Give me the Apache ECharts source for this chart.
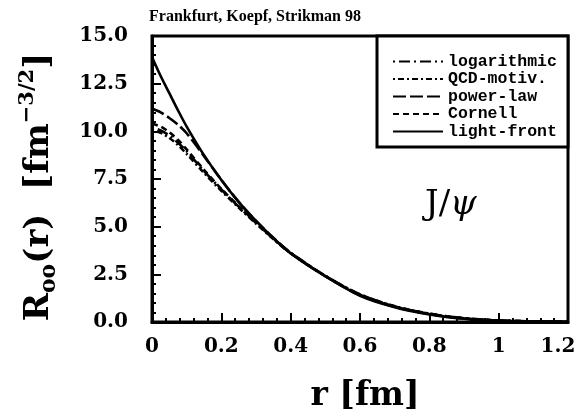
<!DOCTYPE html>
<html>
<head>
<meta charset="utf-8">
<script src="https://cdn.jsdelivr.net/npm/echarts@6/dist/echarts.min.js"></script>
<style>html,body{margin:0;padding:0;background:#fff}#c{width:582px;height:413px}</style>
</head>
<body>
<div id="c"></div>
<script>
var rValues = [0, 0.025, 0.05, 0.075, 0.1, 0.15, 0.2, 0.25, 0.3, 0.35, 0.4, 0.5, 0.6, 0.7, 0.8, 0.9, 1.0, 1.1, 1.2];
var logarithmic = [10.2, 10.05, 9.78, 9.4, 8.95, 7.92, 6.95, 6.05, 5.2, 4.38, 3.63, 2.42, 1.45, 0.82, 0.43, 0.2, 0.08, 0.03, 0.01];
var qcdMotiv    = [10.05, 9.92, 9.65, 9.28, 8.82, 7.82, 6.88, 6.0, 5.16, 4.35, 3.61, 2.42, 1.45, 0.83, 0.44, 0.2, 0.08, 0.03, 0.01];
var powerLaw    = [11.2, 11.0, 10.7, 10.35, 9.9, 8.7, 7.45, 6.3, 5.3, 4.42, 3.62, 2.4, 1.4, 0.8, 0.42, 0.18, 0.07, 0.03, 0.01];
var cornell     = [10.4, 10.25, 9.95, 9.55, 9.05, 7.98, 6.98, 6.08, 5.22, 4.38, 3.62, 2.41, 1.43, 0.81, 0.42, 0.19, 0.08, 0.03, 0.01];
var lightFront  = [13.9, 12.9, 12.0, 11.1, 10.25, 8.75, 7.45, 6.3, 5.3, 4.4, 3.6, 2.4, 1.38, 0.78, 0.4, 0.17, 0.06, 0.02, 0.01];
var seriesNames = ['logarithmic', 'QCD-motiv.', 'power-law', 'Cornell', 'light-front'];
var xTicks = [0, 0.2, 0.4, 0.6, 0.8, 1, 1.2];
var yTicks = [0, 2.5, 5, 7.5, 10, 12.5, 15];

function pairs(v) { return rValues.map(function (r, i) { return [r, v[i]]; }); }
var allValues = [logarithmic, qcdMotiv, powerLaw, cornell, lightFront];
var dashes = [[2, 4, 11, 4], [2, 3, 6, 3], [13, 4], [6, 4], 'solid'];

var serif = 'DejaVu Serif';
var chart = echarts.init(document.getElementById('c'), null, {renderer: 'canvas'});
var option = {
  animation: false,
  backgroundColor: '#fff',
  title: {
    text: 'Frankfurt, Koepf, Strikman 98',
    left: 250, top: 4, textAlign: 'center',
    textStyle: {fontFamily: 'Liberation Serif', fontWeight: 'bold', fontSize: 16, color: '#000'}
  },
  grid: {left: 152, right: 14, top: 36, bottom: 91, show: true, borderColor: '#000', borderWidth: 3,
    backgroundColor: 'transparent', containLabel: false, outerBoundsMode: 'none'},
  legend: {
    orient: 'vertical', left: 392, top: 53,
    itemWidth: 50, itemHeight: 14, itemGap: 0.5,
    data: seriesNames,
    itemStyle: {opacity: 0},
    textStyle: {fontFamily: 'Liberation Mono', fontWeight: 'bold', fontSize: 16.5, color: '#000'},
    padding: 0
  },
  xAxis: {
    type: 'value', min: 0, max: 1.2, interval: 0.2,
    axisLine: {show: true, onZero: false, lineStyle: {color: '#000', width: 3}},
    axisTick: {inside: true, length: 9, lineStyle: {color: '#000', width: 2}},
    minorTick: {show: true, splitNumber: 5, length: 4, lineStyle: {color: '#000', width: 2}},
    splitLine: {show: false},
    axisLabel: {margin: 15, fontFamily: serif, fontWeight: 'bold', fontSize: 20, color: '#000',
      rich: {last: {fontFamily: serif, fontWeight: 'bold', fontSize: 20, color: '#000', padding: [0, 20, 0, 0]}},
      formatter: function (v) {
        var t = xTicks.filter(function (x) { return Math.abs(x - v) < 1e-6; });
        if (!t.length) return '';
        return Math.abs(t[0] - 1.2) < 1e-6 ? '{last|' + t[0] + '}' : String(t[0]);
      }},
    name: 'r [fm]', nameLocation: 'middle', nameGap: 58,
    nameTextStyle: {fontFamily: serif, fontWeight: 'bold', fontSize: 33, color: '#000', padding: [0, 0, 0, 10]}
  },
  yAxis: {
    type: 'value', min: 0, max: 15, interval: 2.5,
    axisLine: {show: true, lineStyle: {color: '#000', width: 3}},
    axisTick: {inside: true, length: 9, lineStyle: {color: '#000', width: 2}},
    minorTick: {show: true, splitNumber: 5, length: 4, lineStyle: {color: '#000', width: 2}},
    splitLine: {show: false},
    axisLabel: {margin: 24, fontFamily: serif, fontWeight: 'bold', fontSize: 20, color: '#000',
      formatter: function (v) { var t = yTicks.filter(function (y) { return Math.abs(y - v) < 1e-6; }); return t.length ? t[0].toFixed(1) : ''; }}
  },
  graphic: [
    {type: 'rect', shape: {x: 377, y: 36, width: 191, height: 111}, style: {fill: '#fff', stroke: '#000', lineWidth: 3}, z: 0},
    {type: 'text', x: 39, y: 187, rotation: Math.PI / 2,
      style: {text: '{a|R}{s|oo}{a|(r)  [fm}{p|−3/2}{a|]}', align: 'center', verticalAlign: 'middle',
        rich: {
          a: {fontFamily: serif, fontWeight: 'bold', fontSize: 34, fill: '#000'},
          s: {fontFamily: serif, fontWeight: 'bold', fontSize: 22, fill: '#000', verticalAlign: 'bottom', padding: [15, 0, 0, 0]},
          p: {fontFamily: serif, fontWeight: 'bold', fontSize: 21, fill: '#000', verticalAlign: 'top', padding: [0, 0, 22, 0]}
        }}},
    {type: 'text', x: 425, y: 188,
      style: {text: '{a|J/}{b|ψ}',
        rich: {
          a: {fontFamily: serif, fontSize: 34, fill: '#000'},
          b: {fontFamily: serif, fontStyle: 'italic', fontSize: 34, fill: '#000'}
        }}}
  ],
  series: seriesNames.map(function (n, i) {
    return {
      name: n, type: 'line', smooth: 0.3, showSymbol: false, symbol: 'none',
      data: pairs(allValues[i]), z: 5,
      lineStyle: {color: '#000', width: 2.6, type: dashes[i]},
      itemStyle: {color: '#000'}
    };
  })
};
chart.setOption(option);
</script>
</body>
</html>
